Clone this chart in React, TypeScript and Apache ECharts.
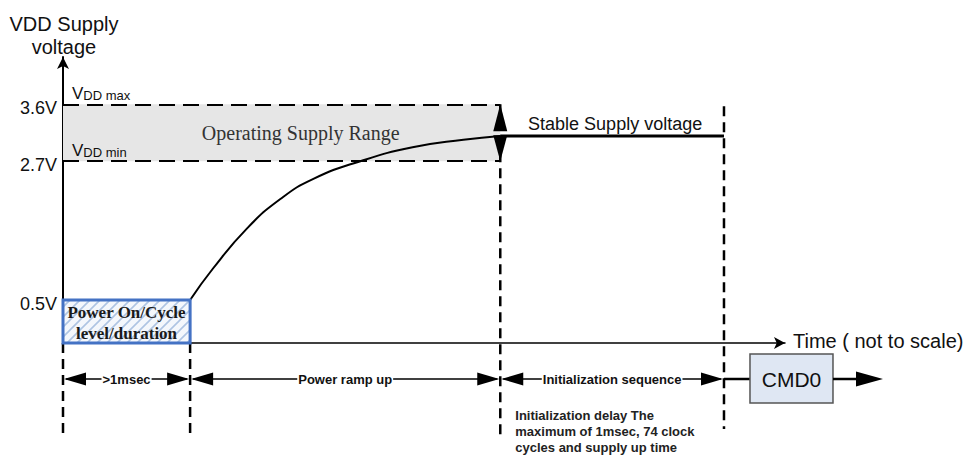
import React, { useEffect, useRef } from "react";
import * as echarts from "echarts";

// ---- Data (time axis is "not to scale": arbitrary units) ----
const phaseBounds = [0, 1, 3.44, 5.2]; // power-on end, ramp end, init end
const timeAxisEnd = 5.68;
const voltAxisMin = -0.18;
const voltAxisMax = 4.35;
const levelValues = [3.6, 2.7, 0.5];
const levelLabels = ["3.6V", "2.7V", "0.5V"];
const levelNames = ["max", "min"];
const rampTime = [1.0, 1.18, 1.45, 1.71, 1.97, 2.34, 2.75, 3.15, 3.44];
const rampVolt = [0.5, 1.0, 1.64, 2.1, 2.42, 2.7, 2.92, 3.04, 3.1];
const stableVolt = 3.1;
const phaseLabels = [">1msec", "Power ramp up", "Initialization sequence"];
const noteLines = [
  "Initialization delay The",
  "maximum of 1msec, 74 clock",
  "cycles and supply up time",
];

const SANS = '"Liberation Sans", Arial, Helvetica, sans-serif';
const SERIF = '"Liberation Serif", "Times New Roman", serif';

function makeHatch(): string {
  const c = document.createElement("canvas");
  c.width = 10;
  c.height = 10;
  const g = c.getContext("2d")!;
  g.fillStyle = "#f4f7fc";
  g.fillRect(0, 0, 10, 10);
  g.strokeStyle = "#aec4e3";
  g.lineWidth = 1.6;
  g.beginPath();
  g.moveTo(-2, 12);
  g.lineTo(12, -2);
  g.moveTo(-2, 2);
  g.lineTo(2, -2);
  g.moveTo(8, 12);
  g.lineTo(12, 8);
  g.stroke();
  return c.toDataURL();
}

export default function App() {
  const ref = useRef<HTMLDivElement>(null);

  useEffect(() => {
    document.body.style.margin = "0";
    const chart = echarts.init(ref.current!, null, { renderer: "svg" });
    const hatch = makeHatch();

    const renderDiagram = (_params: any, api: any) => {
      const P = (t: number, v: number) => api.coord([t, v]);
      const axisY = P(0, voltAxisMin)[1];
      const xs = phaseBounds.map((t) => P(t, 0)[0]);
      const [x0, x1, x2, x3] = xs;
      const yMax = P(0, levelValues[0])[1];
      const yMin = P(0, levelValues[1])[1];
      const yLow = P(0, levelValues[2])[1];
      const yStable = P(0, stableVolt)[1];
      const xEnd = P(timeAxisEnd, 0)[0];
      const rowY = axisY + 36;
      const ch: any[] = [];

      const line = (ax: number, ay: number, bx: number, by: number, w: number, dash?: number[]) =>
        ch.push({
          type: "line",
          shape: { x1: ax, y1: ay, x2: bx, y2: by },
          style: { stroke: "#000", lineWidth: w, lineDash: dash },
        });
      const tri = (tx: number, ty: number, dir: string, len: number, half: number) => {
        let pts: number[][];
        if (dir === "r") pts = [[tx, ty], [tx - len, ty - half], [tx - len, ty + half]];
        else if (dir === "l") pts = [[tx, ty], [tx + len, ty - half], [tx + len, ty + half]];
        else if (dir === "u") pts = [[tx, ty], [tx - half, ty + len], [tx + half, ty + len]];
        else pts = [[tx, ty], [tx - half, ty - len], [tx + half, ty - len]];
        ch.push({ type: "polygon", shape: { points: pts }, style: { fill: "#000" } });
      };
      const text = (s: string, x: number, y: number, o: any = {}) =>
        ch.push({
          type: "text",
          style: {
            text: s,
            x,
            y,
            fill: o.fill || "#111",
            fontFamily: o.family || SANS,
            fontSize: o.size || 16,
            fontWeight: o.weight || "normal",
            textAlign: o.align || "center",
            textVerticalAlign: o.valign || "middle",
            lineHeight: o.lineHeight,
            backgroundColor: o.bg,
            padding: o.pad,
            rich: o.rich,
          },
        });

      // vertical dashed guides
      const vd = [10, 6];
      line(x0, axisY, x0, axisY + 95, 2.5, vd);
      line(x1, axisY, x1, axisY + 95, 2.5, vd);
      line(x2, yMax, x2, axisY + 97, 2.5, vd);
      line(x3, yMax + 2, x3, axisY + 86, 2.5, vd);

      // double arrow at end of ramp
      tri(x2, yMax, "u", 27, 7);
      tri(x2, yMin, "d", 26, 7);

      // power on box
      ch.push({
        type: "rect",
        shape: { x: x0, y: yLow, width: x1 - x0, height: axisY - yLow },
        style: {
          fill: { image: hatch, repeat: "repeat", imageWidth: 10, imageHeight: 10 },
          stroke: "#4472c4",
          lineWidth: 3,
        },
      });
      text("Power On/Cycle\nlevel/duration", (x0 + x1) / 2, (yLow + axisY) / 2 + 1, {
        family: SERIF,
        size: 17,
        weight: "bold",
        lineHeight: 21,
        fill: "#1a1a1a",
      });

      // level labels
      levelValues.forEach((v, i) => {
        text(levelLabels[i], x0 - 6, P(0, v)[1] + 4, { align: "right", size: 18 });
      });
      levelNames.forEach((n, i) => {
        text(`{v|V}{s|DD ${n}}`, x0 + 9, P(0, levelValues[i])[1] - 2, {
          align: "left",
          valign: "bottom",
          rich: {
            v: { fontSize: 17, fontFamily: SANS, fill: "#111", verticalAlign: "bottom", lineHeight: 18 },
            s: { fontSize: 13, fontFamily: SANS, fill: "#111", verticalAlign: "bottom", lineHeight: 18 },
          },
        });
      });

      // titles / annotations
      text("VDD Supply\nvoltage", x0 + 1, 12, { size: 20, valign: "top", lineHeight: 23 });
      const op = P(1.87, 3.15);
      text("Operating Supply Range", op[0], op[1], { family: SERIF, size: 20, fill: "#333" });
      text("Stable Supply voltage", (x2 + x3) / 2 + 3, yStable - 12, { size: 18 });
      text("Time ( not to scale)", xEnd + 8, axisY - 2, { align: "left", size: 20 });

      // bottom phase row
      for (let i = 0; i < 3; i++) {
        const a = xs[i];
        const b = xs[i + 1];
        line(a + 3, rowY, b - 3, rowY, 1.5);
        tri(a + 1, rowY, "l", 22, 6.5);
        tri(b - 1, rowY, "r", 22, 6.5);
        text(phaseLabels[i], (a + b) / 2, rowY, {
          size: 13,
          weight: "bold",
          bg: "#fff",
          pad: [0, 1],
        });
      }

      // CMD0
      line(x3, rowY, x3 + 26, rowY, 2.5);
      ch.push({
        type: "rect",
        shape: { x: x3 + 26, y: rowY - 25, width: 83, height: 49 },
        style: { fill: "#dfe7f3", stroke: "#555", lineWidth: 1.5 },
      });
      text("CMD0", x3 + 26 + 41.5, rowY, { size: 21 });
      line(x3 + 109, rowY, x3 + 135, rowY, 2.5);
      tri(x3 + 159, rowY, "r", 27, 7.5);

      // note
      text(noteLines.join("\n"), x2 + 15, axisY + 64, {
        align: "left",
        valign: "top",
        size: 13,
        weight: "bold",
        lineHeight: 16,
        fill: "#222",
      });

      return { type: "group", children: ch };
    };

    chart.setOption({
      animation: false,
      textStyle: { fontFamily: SANS },
      grid: { left: 63, right: 184, top: 57, bottom: 112 },
      xAxis: {
        type: "value",
        min: 0,
        max: timeAxisEnd,
        axisLine: {
          show: true,
          onZero: false,
          symbol: ["none", "arrow"],
          symbolSize: [9, 11],
          lineStyle: { color: "#000", width: 1.5 },
        },
        axisTick: { show: false },
        axisLabel: { show: false },
        splitLine: { show: false },
      },
      yAxis: {
        type: "value",
        min: voltAxisMin,
        max: voltAxisMax,
        axisLine: {
          show: true,
          onZero: false,
          symbol: ["none", "arrow"],
          symbolSize: [9, 12],
          lineStyle: { color: "#000", width: 2 },
        },
        axisTick: { show: false },
        axisLabel: { show: false },
        splitLine: { show: false },
      },
      series: [
        {
          name: "range",
          type: "line",
          data: [],
          z: 1,
          silent: true,
          markArea: {
            silent: true,
            itemStyle: { color: "#e6e6e6" },
            data: [
              [
                { coord: [phaseBounds[0], levelValues[1]] },
                { coord: [phaseBounds[2], levelValues[0]] },
              ],
            ],
          },
          markLine: {
            silent: true,
            symbol: ["none", "none"],
            label: { show: false },
            lineStyle: { color: "#000", width: 2, type: [16, 8] },
            data: [levelValues[0], levelValues[1]].map((v) => [
              { coord: [phaseBounds[0], v] },
              { coord: [phaseBounds[2], v] },
            ]),
          },
        },
        {
          name: "ramp",
          type: "line",
          z: 3,
          smooth: 0.5,
          showSymbol: false,
          silent: true,
          lineStyle: { color: "#000", width: 2 },
          data: rampTime.map((t, i) => [t, rampVolt[i]]),
        },
        {
          name: "stable",
          type: "line",
          z: 3,
          showSymbol: false,
          silent: true,
          lineStyle: { color: "#000", width: 3 },
          data: [
            [phaseBounds[2], stableVolt],
            [phaseBounds[3], stableVolt],
          ],
        },
        {
          name: "diagram",
          type: "custom",
          z: 5,
          silent: true,
          data: [[0, 0]],
          renderItem: renderDiagram,
        },
      ],
    });

    return () => chart.dispose();
  }, []);

  return <div ref={ref} style={{ width: 969, height: 455 }} />;
}
